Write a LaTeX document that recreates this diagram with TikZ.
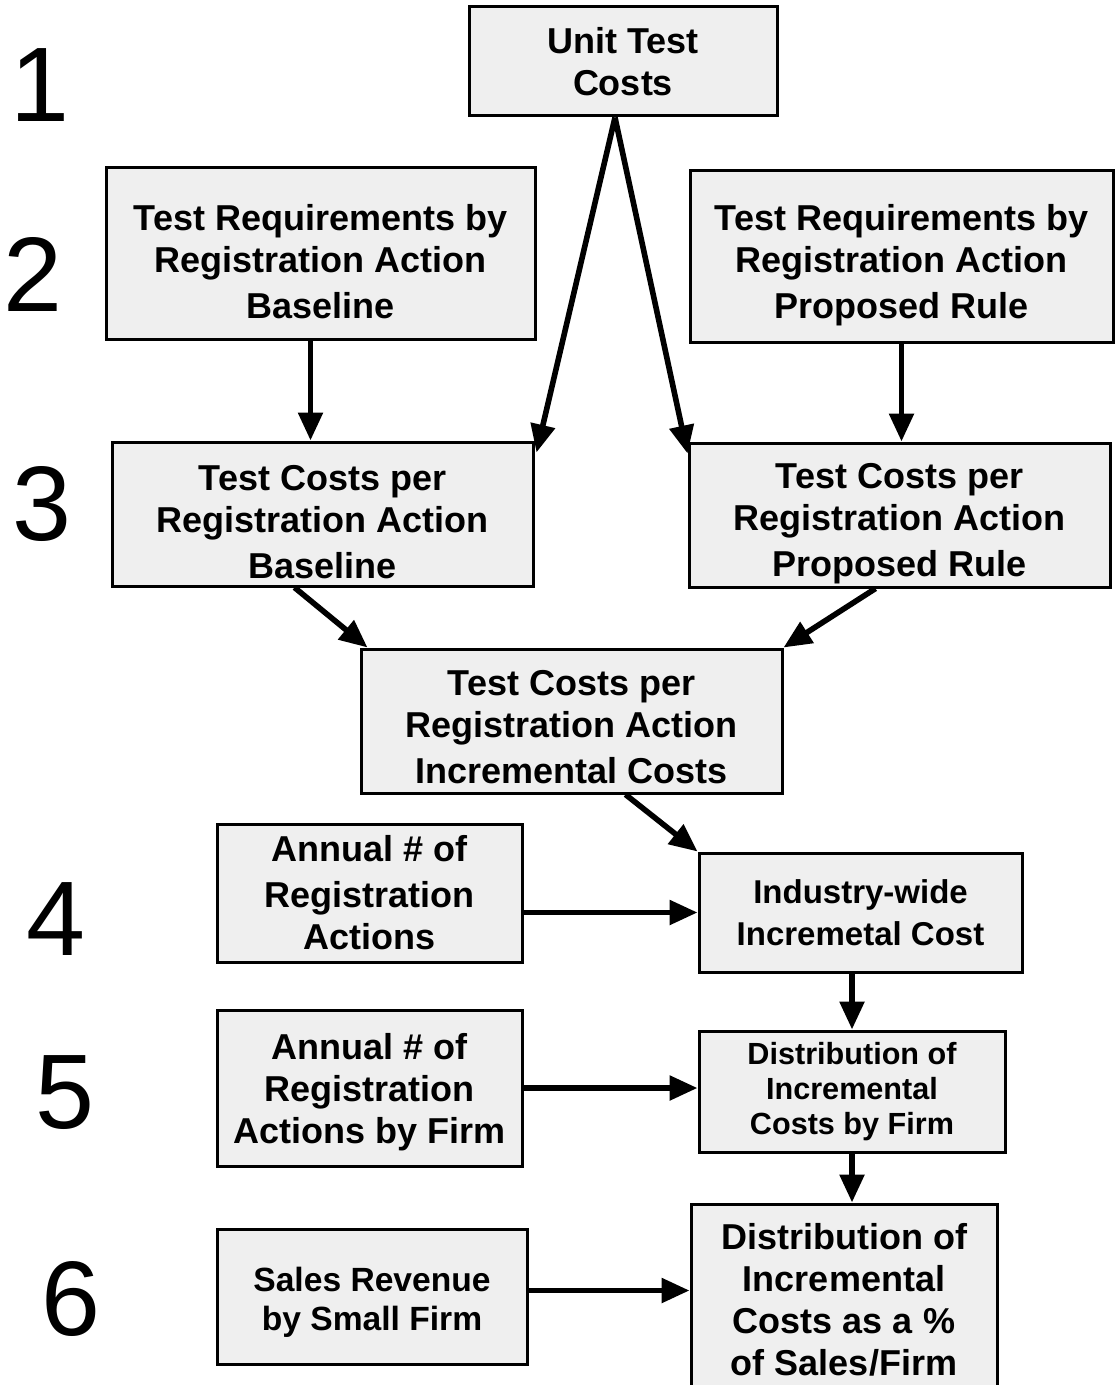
\documentclass[tikz,border=0pt]{standalone}
\usepackage{fontspec}
\setmainfont{Liberation Sans}
\usetikzlibrary{arrows.meta}
\definecolor{boxgray}{HTML}{EFEFEF}
\newcommand{\sunk}[1]{\rule{0pt}{#1}}

\begin{document}
\begin{tikzpicture}[x=0.5pt, y=-0.5pt,
    box/.style={draw=black, line width=1.5pt, fill=boxgray, align=center, inner sep=0pt,
                font=\bfseries\fontsize{18}{21}\selectfont},
    flow/.style={line width=2.8pt, -{Triangle[length=14pt,width=12pt]}},
    stage/.style={anchor=base, inner sep=0pt, font=\fontsize{53}{60}\selectfont}]
    \useasboundingbox (0,0) rectangle (1115,1385);

    % stage numbers
    \foreach \n/\x/\y in {1/40/122, 2/33/312, 3/42/540, 4/56/955, 5/65/1128, 6/71/1335}
        \node[stage] (N\n) at (\x,\y) {\n};

    \node[box, minimum width=154pt, minimum height=54.5pt] (U) at (623,61.5) {Unit Test\\Costs};

    \node[box, minimum width=214.5pt, minimum height=86pt] (RB) at (320.5,254)
        {\sunk{21pt}Test Requirements by\\Registration Action\\[2pt]Baseline};
    \node[box, minimum width=211.5pt, minimum height=86pt] (RP) at (901.5,257)
        {\sunk{21pt}Test Requirements by\\Registration Action\\[2pt]Proposed Rule};

    \node[box, minimum width=210.5pt, minimum height=72pt] (CB) at (322.5,514)
        {\sunk{21pt}Test Costs per\\Registration Action\\[2pt]Baseline};
    \node[box, minimum width=210.5pt, minimum height=72pt] (CP) at (899.5,515)
        {\sunk{21pt}Test Costs per\\Registration Action\\[2pt]Proposed Rule};
    \node[box, minimum width=210.5pt, minimum height=72pt] (CI) at (571.5,721)
        {\sunk{19pt}Test Costs per\\Registration Action\\[2pt]Incremental Costs};

    \node[box, minimum width=152.5pt, minimum height=69pt] (A) at (369.5,893)
        {Annual \# of\\[2pt]Registration\\Actions};
    \node[box, minimum width=161.5pt, minimum height=59.5pt, font=\bfseries\fontsize{16.5}{21}\selectfont]
        (I) at (860.5,912.5) {Industry-wide\\Incremetal Cost};

    \node[box, minimum width=152.5pt, minimum height=78pt] (AF) at (369.5,1088)
        {\sunk{17pt}Annual \# of\\Registration\\Actions by Firm};
    \node[box, minimum width=153pt, minimum height=60.5pt, font=\bfseries\fontsize{15.3}{17.5}\selectfont]
        (DF) at (852,1091.5) {Distribution of\\Incremental\\Costs by Firm};

    \node[box, minimum width=155pt, minimum height=67.5pt, font=\bfseries\fontsize{16.8}{19.5}\selectfont]
        (S) at (372,1296.5) {\sunk{18pt}Sales Revenue\\by Small Firm};
    \node[box, minimum width=153pt, minimum height=95.5pt] (DP) at (844,1299.5)
        {Distribution of\\Incremental\\Costs as a \%\\of Sales/Firm};

    % arrows
    \draw[flow] ([xshift=-4pt]U.south) -- ([xshift=1pt,yshift=-6pt]CB.north east);
    \draw[flow] ([xshift=-4pt]U.south) -- ([yshift=-6pt]CP.north west);
    \draw[flow] ([xshift=-5pt]RB.south) -- ([xshift=-5pt]RB.south |- CB.north);
    \draw[flow] (RP.south) -- (RP.south |- CP.north);
    \draw[flow] ([xshift=-14pt]CB.south) -- ([xshift=4pt]CI.north west);
    \draw[flow] ([xshift=-12pt]CP.south) -- (CI.north east);
    \draw[flow] ([xshift=27pt]CI.south) -- (I.north west);
    \draw[flow] (A.east |- I.west) -- (I.west);
    \draw[flow] (DF.north |- I.south) -- (DF.north);
    \draw[flow] (AF.east) -- (AF.east -| DF.west);
    \draw[flow] (DF.south) -- (DF.south |- DP.north);
    \draw[flow] ([yshift=3pt]S.east) -- ([yshift=3pt]S.east -| DP.west);
\end{tikzpicture}
\end{document}
